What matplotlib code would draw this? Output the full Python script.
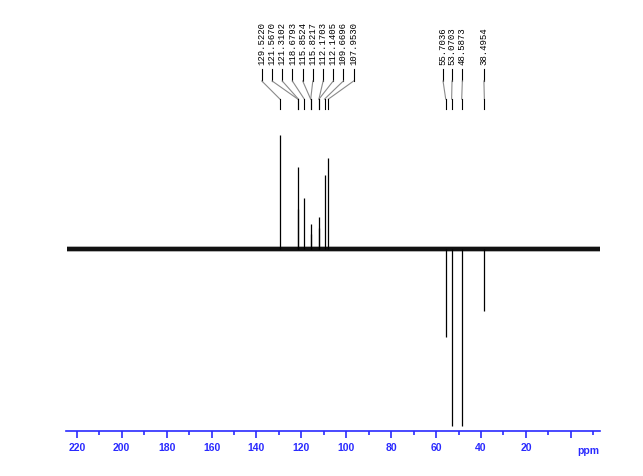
import matplotlib
matplotlib.use("Agg")
import matplotlib.pyplot as plt
import matplotlib.transforms as mtransforms

# positive peaks (CH / CH3 up)
pos_ppm = [129.5220, 121.5670, 121.3102, 118.6793, 115.8524,
           115.8217, 112.1703, 112.1405, 109.6696, 107.9530]
pos_int = [100, 72, 35, 45, 22, 13, 28, 18, 65, 80]
# negative peaks (CH2 down)
neg_ppm = [55.7036, 53.0703, 48.5873, 38.4954]
neg_int = [-77, -155, -155, -54]

# label anchor positions above the spectrum
pos_label_x = [137.6, 133.0, 128.5, 124.0, 119.4, 114.9, 110.3, 105.8, 101.3, 96.7]
neg_label_x = [56.9, 52.9, 48.3, 38.7]

tick_vals = list(range(220, -1, -20))
tick_text = [str(v) for v in tick_vals[:-1]] + [""]

blue = "#2a2aff"

fig = plt.figure(figsize=(6.43, 4.77), dpi=100)
ax = fig.add_axes([66 / 643, 1 - 431.5 / 477, 534 / 643, 431.5 / 477])
ax.set_xlim(224.8, -13)
ax.set_ylim(-181.5 / 1.14, 250 / 1.14)

# baseline band
ax.plot([224.5, -13.5], [0, 0], color="black", lw=3.0, solid_capstyle="butt")
ax.plot([224.5, -13.5], [0, 0], color="#333333", lw=4.2, alpha=0.35,
        solid_capstyle="butt")
ax.vlines(pos_ppm, 0, pos_int, color="black", lw=0.9)
ax.vlines(neg_ppm, 0, neg_int, color="black", lw=0.9)

# peak labels with connector lines
trans = mtransforms.blended_transform_factory(ax.transData, ax.transAxes)
y_txt, y1, y2, y3 = 0.850, 0.838, 0.810, 0.768
y4 = 0.745
for lx, p in zip(pos_label_x + neg_label_x, pos_ppm + neg_ppm):
    ax.text(lx, y_txt, "%.4f" % p, rotation=90, ha="center", va="bottom",
            family="Liberation Mono", fontsize=6.5, transform=trans)
    ax.plot([lx, lx], [y1, y2], color="black", lw=0.8, transform=trans)
    ax.plot([lx, p], [y2, y3], color="#8a8a8a", lw=0.8, transform=trans)
    ax.plot([p, p], [y3, y4], color="black", lw=0.8, transform=trans)

# axis styling
for s in ["top", "left", "right"]:
    ax.spines[s].set_visible(False)
ax.spines["bottom"].set_color(blue)
ax.spines["bottom"].set_linewidth(1.2)
ax.set_yticks([])
ax.set_xticks(tick_vals)
ax.set_xticklabels(tick_text, fontweight="bold", fontsize=7.5, color=blue,
                   family="Liberation Sans")
ax.set_xticks(list(range(210, -11, -20)), minor=True)
ax.tick_params(axis="x", which="major", length=5, width=1.2, color=blue, pad=3.5)
ax.tick_params(axis="x", which="minor", length=3, width=1.2, color=blue)
ax.text(-8, -0.034, "ppm", transform=trans, ha="center", va="top",
        fontweight="bold", fontsize=7.5, color=blue, family="Liberation Sans")

fig.savefig("out.png", dpi=100)
